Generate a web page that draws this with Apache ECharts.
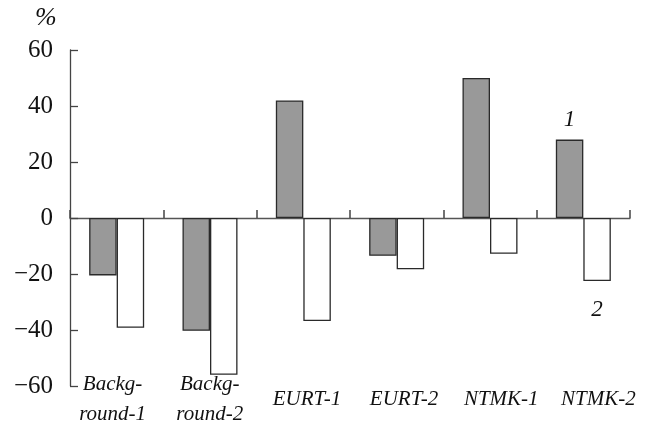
<!DOCTYPE html>
<html>
<head>
<meta charset="utf-8">
<script src="https://cdn.jsdelivr.net/npm/echarts@6/dist/echarts.min.js"></script>
<style>html,body{margin:0;padding:0;background:#fff}#c{width:647px;height:430px}</style>
</head>
<body>
<div id="c"></div>
<script>
const categories = ['Backg-\nround-1', 'Backg-\nround-2', 'EURT-1', 'EURT-2', 'NTMK-1', 'NTMK-2'];
const series1 = [-20.5, -40.3, 42, -13.5, 50, 28];
const series2 = [-39.2, -56, -36.8, -18.3, -12.8, -22.5];
const yTicks = { min: -60, max: 60, interval: 20 };
const seriesNames = ['1', '2'];

const serif = '"Liberation Serif", "DejaVu Serif", serif';
const chart = echarts.init(document.getElementById('c'));

function withLastLabel(values, text, pos, dist) {
  return values.map((v, i) => i === values.length - 1
    ? { value: v, label: { show: true, formatter: text, position: pos, distance: dist,
        fontFamily: serif, fontStyle: 'italic', fontSize: 23, color: '#111' } }
    : v);
}

chart.setOption({
  animation: false,
  backgroundColor: '#fff',
  grid: [
    { left: 70, right: 17, top: 50, bottom: 44 },
    { left: 64, right: 0, top: 50, bottom: 44 }
  ],
  xAxis: [
    {
      type: 'category', gridIndex: 0, data: categories,
      axisLine: { onZero: true, lineStyle: { color: '#555', width: 1.3 } },
      axisTick: { show: true, inside: true, length: 8, lineStyle: { color: '#444', width: 1.5 } },
      axisLabel: { show: false }
    },
    {
      type: 'category', gridIndex: 1, data: categories,
      axisLine: { show: false }, axisTick: { show: false },
      axisLabel: { margin: 13, verticalAlign: 'middle', lineHeight: 30,
        fontFamily: serif, fontStyle: 'italic', fontSize: 21, color: '#111', interval: 0 }
    }
  ],
  yAxis: [
    {
      type: 'value', gridIndex: 0, min: yTicks.min, max: yTicks.max, interval: yTicks.interval,
      splitLine: { show: false },
      axisLine: { show: true, lineStyle: { color: '#444', width: 1.3 } },
      axisTick: { show: true, inside: true, length: 8, lineStyle: { color: '#444', width: 1.3 } },
      axisLabel: { margin: 17, fontFamily: serif, fontSize: 25, color: '#111',
        formatter: v => v < 0 ? '\u2212' + Math.abs(v) : String(v) }
    },
    { type: 'value', gridIndex: 1, min: yTicks.min, max: yTicks.max, show: false }
  ],
  graphic: [
    { type: 'text', left: 35, top: 5,
      style: { text: '%', font: 'italic 26px "Liberation Serif", serif', fill: '#111' } }
  ],
  series: [
    {
      name: seriesNames[0], type: 'bar', xAxisIndex: 0, yAxisIndex: 0,
      barWidth: 27.5, barGap: '0%',
      itemStyle: { color: '#999999', borderColor: '#2a2a2a', borderWidth: 1.3 },
      data: withLastLabel(series1, seriesNames[0], 'top', 8)
    },
    {
      name: seriesNames[1], type: 'bar', xAxisIndex: 0, yAxisIndex: 0,
      barWidth: 27.5, barGap: '0%',
      itemStyle: { color: '#ffffff', borderColor: '#2a2a2a', borderWidth: 1.3 },
      data: withLastLabel(series2, seriesNames[1], 'bottom', 17)
    }
  ]
});
</script>
</body>
</html>
